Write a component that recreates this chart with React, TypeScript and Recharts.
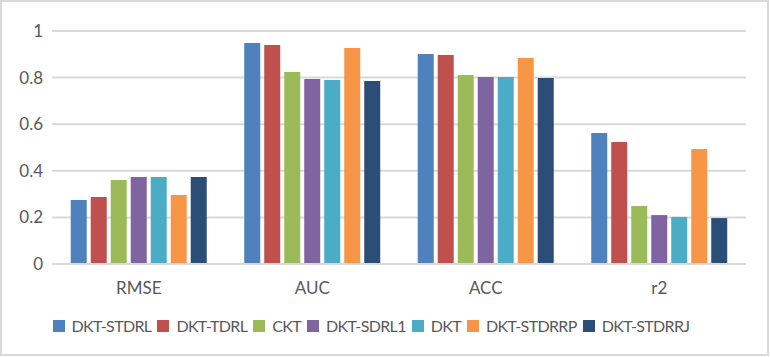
import { BarChart, Bar, XAxis, YAxis, CartesianGrid, Legend } from 'recharts'

const categories = ['RMSE', 'AUC', 'ACC', 'r2']

const dktStdrl = [0.275, 0.948, 0.901, 0.562]
const dktTdrl = [0.288, 0.94, 0.897, 0.524]
const ckt = [0.36, 0.824, 0.811, 0.249]
const dktSdrl1 = [0.373, 0.794, 0.803, 0.21]
const dkt = [0.373, 0.79, 0.803, 0.202]
const dktStdrrp = [0.296, 0.927, 0.884, 0.494]
const dktStdrrj = [0.373, 0.785, 0.798, 0.197]

const yTicks = [0, 0.2, 0.4, 0.6, 0.8, 1]

const series = [
  { key: 'DKT-STDRL', values: dktStdrl, color: '#4f81bd' },
  { key: 'DKT-TDRL', values: dktTdrl, color: '#c0504d' },
  { key: 'CKT', values: ckt, color: '#9bbb59' },
  { key: 'DKT-SDRL1', values: dktSdrl1, color: '#8064a2' },
  { key: 'DKT', values: dkt, color: '#4bacc6' },
  { key: 'DKT-STDRRP', values: dktStdrrp, color: '#f79646' },
  { key: 'DKT-STDRRJ', values: dktStdrrj, color: '#2c4d75' },
]

const data = categories.map((name, i) => {
  const row: Record<string, string | number> = { name }
  series.forEach(s => { row[s.key] = s.values[i] })
  return row
})

const textColor = '#595959'
const font = 'Lato, "Open Sans", sans-serif'

const LegendContent = () => (
  <div style={{ display: 'flex', justifyContent: 'center', alignItems: 'center', height: 22, paddingTop: 1, fontFamily: font, fontSize: 16, letterSpacing: -0.65, color: textColor }}>
    {series.map(s => (
      <div key={s.key} style={{ display: 'flex', alignItems: 'center', marginRight: 6 }}>
        <span style={{ width: 12, height: 12, background: s.color, display: 'inline-block', marginRight: 7 }} />
        <span style={{ lineHeight: '22px', whiteSpace: 'nowrap' }}>{s.key}</span>
      </div>
    ))}
  </div>
)

export default function App() {
  return (
    <div
      style={{
        position: 'absolute',
        left: 0,
        top: 0,
        width: 769,
        height: 356,
        boxSizing: 'border-box',
        border: '2px solid #d9d9d9',
        background: '#fff',
      }}
    >
      <BarChart
        width={765}
        height={352}
        data={data}
        margin={{ top: 29, right: 21, left: 0, bottom: 0 }}
        barCategoryGap="10.8%"
        barGap={4}
      >
        <CartesianGrid vertical={false} stroke="#d9d9d9" strokeWidth={2} />
        <XAxis
          dataKey="name"
          height={50}
          axisLine={{ stroke: '#d9d9d9', strokeWidth: 2 }}
          tickLine={false}
          tickSize={0}
          tickMargin={18}
          tick={{ fill: textColor, fontSize: 17, fontFamily: font }}
        />
        <YAxis
          width={50}
          domain={[0, 1]}
          ticks={yTicks}
          axisLine={false}
          tickLine={false}
          tickSize={0}
          tickMargin={9}
          tick={{ fill: textColor, fontSize: 17, fontFamily: font }}
        />
        <Legend verticalAlign="bottom" height={40} content={<LegendContent />} />
        {series.map(s => (
          <Bar key={s.key} dataKey={s.key} fill={s.color} isAnimationActive={false} />
        ))}
      </BarChart>
    </div>
  )
}
